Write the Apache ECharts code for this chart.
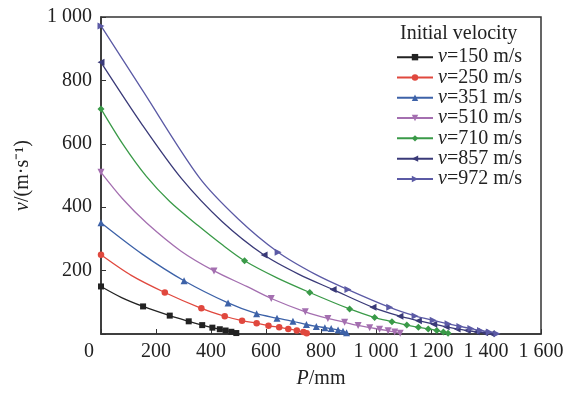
<!DOCTYPE html>
<html><head><meta charset="utf-8">
<script src="https://cdn.jsdelivr.net/npm/echarts@6/dist/echarts.min.js"></script>
<style>html,body{margin:0;padding:0;background:#fff}#c{width:573px;height:394px}</style>
</head><body><div id="c"></div>
<script>
// Tick labels
const xTickLabels = ['0','200','400','600','800','1 000','1 200','1 400','1 600'];
const yTickLabels = ['0','200','400','600','800','1 000'];
const seriesNames = ['v=150 m/s','v=250 m/s','v=351 m/s','v=510 m/s','v=710 m/s','v=857 m/s','v=972 m/s'];

// Marked points [P (mm), v (m/s)]
const markers150 = [[0,150],[153,87],[250,58],[319,40],[368,28],[405,20],[432,15],[453,11],[474,7],[492,3]];
const markers250 = [[0,250],[232,131],[365,81],[450,56],[513,42],[566,34],[609,26],[648,21],[681,16],[712,11],[736,6],[748,2]];
const markers351 = [[0,351],[302,168],[462,98],[566,64],[640,50],[698,40],[747,30],[783,24],[814,20],[837,17],[862,13],[880,9],[893,4]];
const markers510 = [[0,510],[411,199],[619,112],[743,70],[825,49],[886,37],[935,27],[977,20],[1013,15],[1044,10],[1068,6],[1088,2]];
const markers710 = [[0,710],[522,231],[759,131],[904,79],[995,52],[1058,39],[1112,28],[1154,21],[1190,16],[1221,11],[1245,6],[1262,2]];
const markers857 = [[0,857],[593,249],[844,140],[989,84],[1087,56],[1154,42],[1210,31],[1255,23],[1295,16],[1332,11],[1365,7],[1395,4],[1420,1]];
const markers972 = [[0,972],[644,258],[898,140],[1050,84],[1142,57],[1208,43],[1262,32],[1305,24],[1345,17],[1380,11],[1412,6],[1440,1]];

// Unmarked curve points read between markers
const curve150 = [[75,115]];
const curve250 = [[110,185]];
const curve351 = [[150,252]];
const curve510 = [[80,425],[166,350],[290,262],[530,150]];
const curve710 = [[80,598],[165,497],[250,418],[353,342],[440,282],[640,177]];
const curve857 = [[150,660],[293,490],[440,355],[720,188]];
const curve972 = [[150,770],[357,494],[500,362],[780,188]];

const markerSets = [markers150,markers250,markers351,markers510,markers710,markers857,markers972];
const curveSets = [curve150,curve250,curve351,curve510,curve710,curve857,curve972];

const colors = ['#222222','#e0483e','#3d62a8','#a46fb0','#3a9a48','#3a3a78','#5b5aa5'];
const symbols = ['rect','circle','triangle','triangle','diamond','triangle','triangle'];
const rotations = [0,0,0,180,0,90,-90];
const sizes = [6,6.5,7,7,7,7,7];

const FONT = '"Liberation Serif", "Times New Roman", serif';

function build(m, c) {
  const pts = m.map(p => ({value: p})).concat(c.map(p => ({value: p, symbol: 'none'})));
  pts.sort((a, b) => a.value[0] - b.value[0]);
  return pts;
}

const series = seriesNames.map((n, i) => ({
  name: n,
  type: 'line',
  smooth: 0.3,
  symbol: symbols[i],
  symbolRotate: rotations[i],
  symbolSize: sizes[i],
  showAllSymbol: true,
  color: colors[i],
  lineStyle: {width: 1.3, color: colors[i]},
  itemStyle: {color: colors[i]},
  data: build(markerSets[i], curveSets[i]),
  z: 2 + i
}));

const chart = echarts.init(document.getElementById('c'), null, {renderer: 'canvas'});
chart.setOption({
  animation: false,
  backgroundColor: '#fff',
  title: {
    text: 'Initial velocity', left: 395, top: 19,
    textStyle: {fontFamily: FONT, fontSize: 20, fontWeight: 'normal', color: '#222'}
  },
  legend: {
    orient: 'vertical', left: 391, top: 42, itemGap: 0, itemWidth: 36, itemHeight: 8,
    data: seriesNames,
    formatter: n => '{i|v}' + n.slice(1),
    textStyle: {fontFamily: FONT, fontSize: 20, color: '#222', lineHeight: 20.3,
      rich: {i: {fontFamily: FONT, fontSize: 20, fontStyle: 'italic', color: '#222', lineHeight: 20.3}}}
  },
  grid: {left: 101, right: 32, top: 17, bottom: 59, show: true, borderColor: '#333', borderWidth: 1.5, backgroundColor: 'transparent'},
  xAxis: {
    type: 'value', min: 0, max: 1600, interval: 200,
    name: '{i|P}/mm', nameLocation: 'middle', nameGap: 35,
    nameTextStyle: {fontFamily: FONT, fontSize: 20, color: '#222',
      rich: {i: {fontFamily: FONT, fontSize: 20, fontStyle: 'italic', color: '#222'}}},
    axisLine: {lineStyle: {color: '#333', width: 1.5}},
    axisTick: {inside: true, length: 5, lineStyle: {color: '#333'}},
    splitLine: {show: false},
    axisLabel: {
      margin: 8, fontFamily: FONT, fontSize: 20, color: '#222',
      formatter: v => v === 0 ? '{z|0}' : xTickLabels[Math.round(v / 200)],
      rich: {z: {fontFamily: FONT, fontSize: 20, color: '#222', padding: [0, 24, 0, 0]}}
    }
  },
  yAxis: {
    type: 'value', min: 0, max: 1000, interval: 200,
    name: '{i|v}/(m·s⁻¹)', nameLocation: 'middle', nameRotate: 90, nameGap: 68,
    nameTextStyle: {fontFamily: FONT, fontSize: 20, color: '#222',
      rich: {i: {fontFamily: FONT, fontSize: 20, fontStyle: 'italic', color: '#222'}}},
    axisLine: {lineStyle: {color: '#333', width: 1.5}},
    axisTick: {inside: true, length: 5, lineStyle: {color: '#333'}},
    splitLine: {show: false},
    axisLabel: {
      margin: 9, fontFamily: FONT, fontSize: 20, color: '#222',
      formatter: v => v === 0 ? '' : yTickLabels[Math.round(v / 200)]
    }
  },
  series: series
});
</script>
</body></html>
